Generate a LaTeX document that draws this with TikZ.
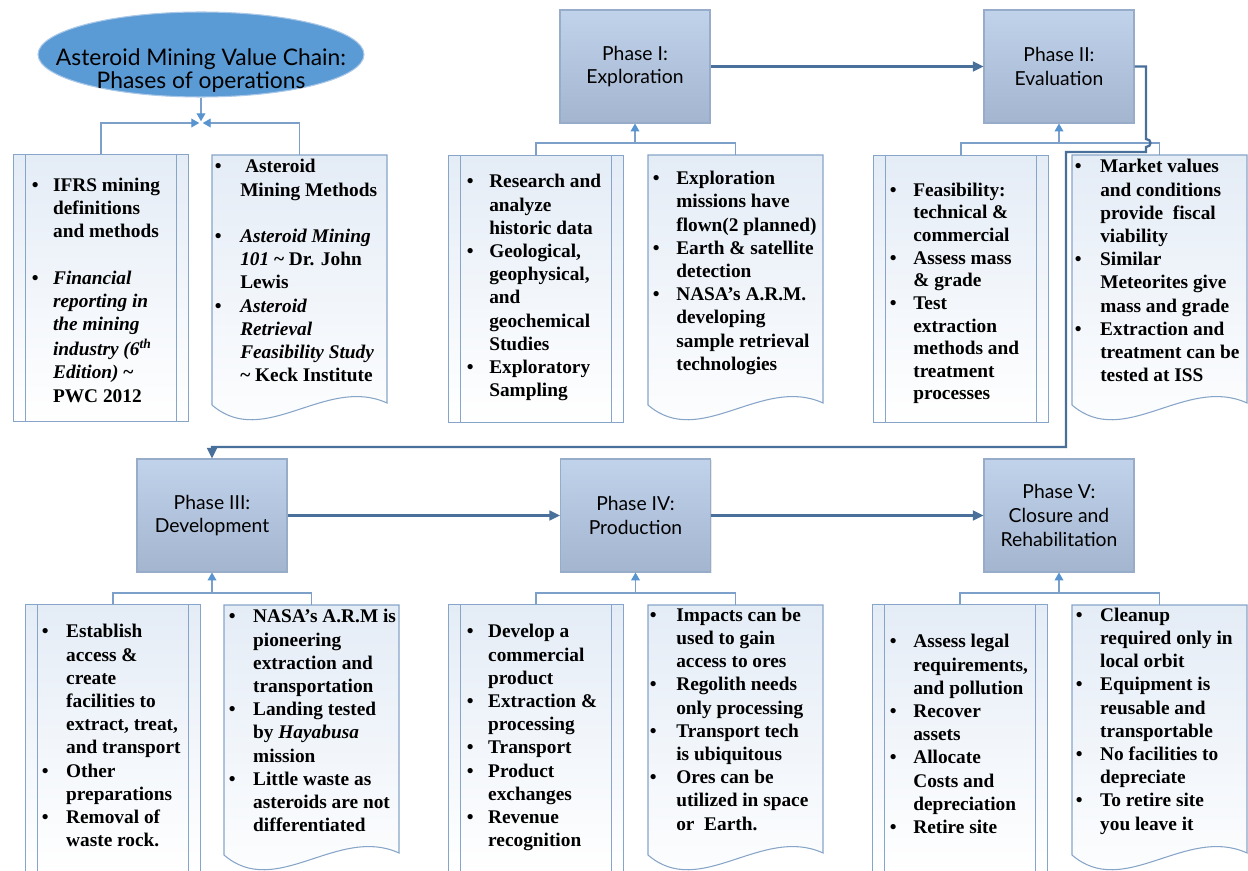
\documentclass[tikz,border=0pt]{standalone}
\usepackage{fontspec}
\setmainfont{Liberation Serif}
\newfontfamily\gill{Lato}
\usetikzlibrary{shapes.geometric,arrows.meta,shadows}
\definecolor{conc}{RGB}{125,160,202}
\definecolor{tipc}{RGB}{88,148,208}
\definecolor{mainc}{RGB}{72,112,155}
\definecolor{bxline}{RGB}{135,165,200}
\definecolor{bxtop}{RGB}{228,236,246}
\definecolor{phline}{RGB}{150,172,200}
\definecolor{phtop}{RGB}{192,211,235}
\definecolor{phbot}{RGB}{164,181,207}
\definecolor{rootc}{RGB}{91,155,213}
\definecolor{rootline}{RGB}{170,200,232}
\newlength\bw
\newcommand\myB[1]{\makebox[\bw][l]{\textbullet}#1\strut}
\newcommand\myC[1]{\hspace*{\bw}#1\strut}
\begin{document}
\begin{tikzpicture}[x=0.02cm,y=-0.02cm,
  phase/.style={draw=phline, line width=0.6pt, top color=phtop, bottom color=phbot,
    minimum width=3cm, minimum height=2.26cm, inner sep=0pt, align=center,
    font=\gill\fontsize{11}{13.6}\selectfont,
    drop shadow={opacity=0.18, shadow xshift=0.8pt, shadow yshift=-0.8pt}},
  leftbox/.style={draw=bxline, line width=0.6pt, top color=bxtop, bottom color=white,
    minimum width=3.5cm, minimum height=5.34cm, inner sep=0pt, anchor=north west},
  docbox/.style={draw=bxline, line width=0.6pt, top color=bxtop, bottom color=white},
  inl/.style={draw=bxline, line width=0.6pt},
  conn/.style={draw=conc, line width=0.6pt},
  upar/.style={-{Triangle[length=4.5pt,width=5pt,color=tipc]}},
  mainl/.style={draw=mainc, line width=1.3pt, -{Triangle[length=6pt,width=5.5pt,color=mainc]}},
  txt/.style={anchor=north west, inner sep=0pt, align=left,
    font={\fontsize{11}{13.2}\selectfont\bfseries\setlength\bw{#1}}}
]
\useasboundingbox (0,0) rectangle (1248,871);
\fill[white] (0,0) rectangle (1248,871);

% ---------- root ellipse ----------
\node[ellipse, fill=rootc, draw=rootline, line width=0.6pt, minimum width=6.52cm, minimum height=1.7cm, inner sep=0pt] (root) at (201,54.5) {};
\node[align=center, inner sep=0pt, font=\gill\fontsize{13}{13.2}\selectfont] (rootlbl) at (201,70.5) {Asteroid Mining Value Chain:\\Phases of operations};

% ---------- phase boxes ----------
\node[phase] (p1) at (635,66.5) {Phase I:\\Exploration};
\node[phase] (p2) at (1059,66.5) {Phase II:\\Evaluation};
\node[phase] (p3) at (212,515.5) {Phase III:\\Development};
\node[phase] (p4) at (635.5,515.5) {Phase IV:\\Production};
\node[phase] (p5) at (1059,515.5) {Phase V:\\Closure and\\Rehabilitation};

% ---------- left (process) boxes ----------
\node[leftbox] (b1) at (13,154) {};
\node[leftbox] (b2) at (448,155) {};
\node[leftbox] (b3) at (873,155) {};
\node[leftbox, minimum height=5.36cm] (b4) at (25,604) {};
\node[leftbox, minimum height=5.36cm] (b5) at (448,604) {};
\node[leftbox, minimum height=5.36cm] (b6) at (872,604) {};
\foreach \b in {b1,b2,b3,b4,b5,b6}{
  \draw[inl] ([xshift=0.25cm]\b.north west) -- ([xshift=0.25cm]\b.south west);
  \draw[inl] ([xshift=-0.25cm]\b.north east) -- ([xshift=-0.25cm]\b.south east);
}

% ---------- document boxes ----------
\newcommand\docbox[2]{\path[docbox] (#1,#2) -- ({#1+175},#2) -- ({#1+175},{#2+248})
  .. controls ({#1+114},{#2+220}) and ({#1+52},{#2+295}) .. (#1,{#2+250}) -- cycle;}
\docbox{212}{155}
\docbox{648}{155}
\docbox{1072}{155}
\docbox{224}{605}
\docbox{648}{605}
\docbox{1072}{605}
\coordinate (d1) at (299.5,155);
\coordinate (d2) at (735.5,155);
\coordinate (d3) at (1159.5,155);
\coordinate (d4) at (311.5,605);
\coordinate (d5) at (735.5,605);
\coordinate (d6) at (1159.5,605);

% ---------- thin connectors ----------
\coordinate (j0) at (201,123);
\draw[conn,upar,shorten >=1pt] (b1.north) |- (j0);
\draw[conn,upar,shorten >=1pt] (d1) |- (j0);
\draw[conn,upar,shorten >=1pt] (root.south) -- (j0);

\coordinate (j1) at (635,143);
\draw[conn] (b2.north) |- (j1) -| (d2);
\draw[conn,upar] (j1) -- (p1.south);

\coordinate (j2) at (1059,143);
\draw[conn] (b3.north) |- (j2) -| (d3);
\draw[conn,upar] (j2) -- (p2.south);

\coordinate (j3) at (212,593);
\draw[conn] (b4.north) |- (j3) -| (d4);
\draw[conn,upar] (j3) -- (p3.south);

\coordinate (j4) at (635.5,593);
\draw[conn] (b5.north) |- (j4) -| (d5);
\draw[conn,upar] (j4) -- (p4.south);

\coordinate (j5) at (1059,593);
\draw[conn] (b6.north) |- (j5) -| (d6);
\draw[conn,upar] (j5) -- (p5.south);

% ---------- main flow connectors ----------
\draw[mainl] (p1.east) -- (p2.west);
\coordinate (h1) at (1146,139);
\coordinate (h2) at (1146,147);
\coordinate (h3) at (1066,152);
\coordinate (h4) at (1066,447);
\draw[mainl] (p2.east) -| (h1) .. controls +(6,0) and +(6,0) .. (h2) |- (h3) -- (h4) -| (p3.north);
\draw[mainl] (p3.east) -- (p4.west);
\draw[mainl] (p4.east) -- (p5.west);

% ---------- texts ----------
\node[txt=12.1pt] (t1) at (31.5,174.8) {\myB{IFRS mining}\\ \myC{definitions}\\ \myC{and methods}\\ \strut\\
  \myB{\textit{Financial}}\\ \myC{\textit{reporting in}}\\ \myC{\textit{the mining}}\\
  \myC{\textit{industry (6\textsuperscript{th}}}\\ \myC{\textit{Edition)} \textasciitilde}\\ \myC{PWC 2012}};
\node[txt=14.4pt] (t2) at (214.6,156.4) {\myB{\hspace{2.8pt}Asteroid}\\ \myC{Mining Methods}\\ \strut\\
  \myB{\textit{Asteroid Mining}}\\ \myC{\textit{101} \textasciitilde{} Dr. John}\\ \myC{Lewis}\\
  \myB{\textit{Asteroid}}\\ \myC{\textit{Retrieval}}\\ \myC{\textit{Feasibility Study}}\\ \myC{\textasciitilde{} Keck Institute}};
\node[txt=12.7pt] (t3) at (466.6,171.4) {\myB{Research and}\\ \myC{analyze}\\ \myC{historic data}\\
  \myB{Geological,}\\ \myC{geophysical,}\\ \myC{and}\\ \myC{geochemical}\\ \myC{Studies}\\
  \myB{Exploratory}\\ \myC{Sampling}};
\node[txt=13.3pt] (t4) at (652.6,168.1) {\myB{Exploration}\\ \myC{missions have}\\ \myC{flown(2 planned)}\\
  \myB{Earth \& satellite}\\ \myC{detection}\\ \myB{NASA's A.R.M.}\\ \myC{developing}\\
  \myC{sample retrieval}\\ \myC{technologies}};
\node[txt=13.3pt, font={\fontsize{11}{12.9}\selectfont\bfseries\setlength\bw{13.3pt}}] (t5) at (889.6,179.8)
  {\myB{Feasibility:}\\ \myC{technical \&}\\ \myC{commercial}\\ \myB{Assess mass}\\ \myC{\& grade}\\
  \myB{Test}\\ \myC{extraction}\\ \myC{methods and}\\ \myC{treatment}\\ \myC{processes}};
\node[txt=14.4pt] (t6) at (1074.6,156.4) {\myB{Market values}\\ \myC{and conditions}\\ \myC{provide\ \ fiscal}\\
  \myC{viability}\\ \myB{Similar}\\ \myC{Meteorites give}\\ \myC{mass and grade}\\
  \myB{Extraction and}\\ \myC{treatment can be}\\ \myC{tested at ISS}};
\node[txt=13.8pt] (t7) at (41.6,621.4) {\myB{Establish}\\ \myC{access \&}\\ \myC{create}\\ \myC{facilities to}\\
  \myC{extract, treat,}\\ \myC{and transport}\\ \myB{Other}\\ \myC{preparations}\\ \myB{Removal of}\\ \myC{waste rock.}};
\node[txt=13.8pt] (t8) at (228.6,606.4) {\myB{NASA's A.R.M is}\\ \myC{pioneering}\\ \myC{extraction and}\\
  \myC{transportation}\\ \myB{Landing tested}\\ \myC{by \textit{Hayabusa}}\\ \myC{mission}\\
  \myB{Little waste as}\\ \myC{asteroids are not}\\ \myC{differentiated}};
\node[txt=12.1pt] (t9) at (466.6,621.4) {\myB{Develop a}\\ \myC{commercial}\\ \myC{product}\\
  \myB{Extraction \&}\\ \myC{processing}\\ \myB{Transport}\\ \myB{Product}\\ \myC{exchanges}\\
  \myB{Revenue}\\ \myC{recognition}};
\node[txt=15pt] (t10) at (649.6,604.8) {\myB{Impacts can be}\\ \myC{used to gain}\\ \myC{access to ores}\\
  \myB{Regolith needs}\\ \myC{only processing}\\ \myB{Transport tech}\\ \myC{is ubiquitous}\\
  \myB{Ores can be}\\ \myC{utilized in space}\\ \myC{or\ \ Earth.}};
\node[txt=13.3pt] (t11) at (889.6,631.4) {\myB{Assess legal}\\ \myC{requirements,}\\ \myC{and pollution}\\
  \myB{Recover}\\ \myC{assets}\\ \myB{Allocate}\\ \myC{Costs and}\\ \myC{depreciation}\\ \myB{Retire site}};
\node[txt=13.8pt] (t12) at (1075.6,604.8) {\myB{Cleanup}\\ \myC{required only in}\\ \myC{local orbit}\\
  \myB{Equipment is}\\ \myC{reusable and}\\ \myC{transportable}\\ \myB{No facilities to}\\
  \myC{depreciate}\\ \myB{To retire site}\\ \myC{you leave it}};
\end{tikzpicture}
\end{document}
